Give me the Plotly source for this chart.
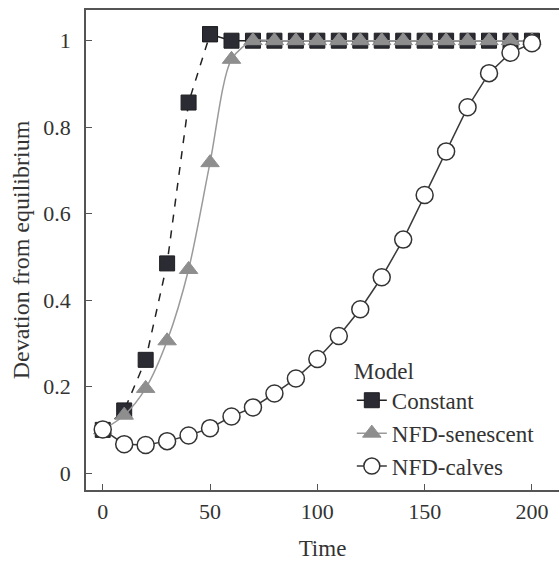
import plotly.graph_objects as go

time = [0, 10, 20, 30, 40, 50, 60, 70, 80, 90, 100, 110, 120, 130, 140, 150, 160, 170, 180, 190, 200]
constant = [0.10, 0.145, 0.262, 0.485, 0.857, 1.015, 1.0, 1.0, 1.0, 1.0, 1.0, 1.0, 1.0, 1.0, 1.0, 1.0, 1.0, 1.0, 1.0, 1.0, 1.0]
senescent = [0.10, 0.134, 0.196, 0.306, 0.471, 0.718, 0.957, 1.0, 1.0, 1.0, 1.0, 1.0, 1.0, 1.0, 1.0, 1.0, 1.0, 1.0, 1.0, 1.0, 1.0]
calves = [0.101, 0.067, 0.065, 0.074, 0.087, 0.104, 0.131, 0.152, 0.184, 0.219, 0.264, 0.317, 0.379, 0.453, 0.540, 0.643, 0.744, 0.846, 0.925, 0.972, 0.994]

x_ticks = [0, 50, 100, 150, 200]
y_ticks = [0, 0.2, 0.4, 0.6, 0.8, 1]

FONT = "Liberation Serif"
FS = 22
LFS = 23
TXT = "#333333"
AX = "#555555"

rise = [i for i, t in enumerate(time) if t <= 50]
flat = [i for i, t in enumerate(time) if t >= 50]

fig = go.Figure()

sq_marker = dict(symbol="square", size=15, color="#2b2b33", line=dict(color="#1e1e22", width=1))

fig.add_trace(go.Scatter(
    x=[time[i] for i in rise], y=[constant[i] for i in rise],
    mode="lines+markers", showlegend=False,
    line=dict(color="#222222", width=1.5, dash="8px,8px"),
    marker=sq_marker,
))
fig.add_trace(go.Scatter(
    x=[time[i] for i in flat], y=[constant[i] for i in flat],
    mode="lines+markers", name="Constant",
    line=dict(color="#222222", width=1.5),
    marker=sq_marker,
))
fig.add_trace(go.Scatter(
    x=time, y=senescent, mode="lines+markers", name="NFD-senescent",
    line=dict(color="#9a9a9a", width=1.5, shape="spline", smoothing=0.8),
    marker=dict(symbol="triangle-up", size=16, color="#8e8e8e", line=dict(color="#8e8e8e", width=1)),
))
fig.add_trace(go.Scatter(
    x=time, y=calves, mode="lines+markers", name="NFD-calves",
    line=dict(color="#3a3a3a", width=1.5),
    marker=dict(symbol="circle", size=17, color="white", line=dict(color="#333333", width=1.5)),
))

fig.update_layout(
    width=559, height=561,
    margin=dict(l=86, r=0, t=10, b=69),
    paper_bgcolor="white", plot_bgcolor="white",
    font=dict(family=FONT, size=FS, color=TXT),
    legend=dict(
        x=0.562, y=0.294, xanchor="left", yanchor="top",
        bgcolor="rgba(0,0,0,0)",
        title=dict(text="Model", font=dict(family=FONT, size=LFS, color=TXT)),
        font=dict(family=FONT, size=LFS, color=TXT),
        tracegroupgap=0,
    ),
    xaxis=dict(
        range=[-7.8, 212.6], tickvals=x_ticks, ticktext=[str(v) for v in x_ticks],
        tickfont=dict(family=FONT, size=FS, color=TXT),
        ticks="inside", ticklen=6, tickcolor=AX, tickwidth=1.2,
        ticklabelstandoff=1,
        showline=True, linecolor=AX, linewidth=1.5, mirror=True,
        showgrid=False, zeroline=False,
        title=dict(text="Time", standoff=21, font=dict(family=FONT, size=LFS, color=TXT)),
    ),
    yaxis=dict(
        range=[-0.039, 1.071], tickvals=y_ticks, ticktext=["0", "0.2", "0.4", "0.6", "0.8", "1"],
        tickfont=dict(family=FONT, size=FS, color=TXT),
        ticks="inside", ticklen=6, tickcolor=AX, tickwidth=1.2,
        ticklabelstandoff=9,
        showline=True, linecolor=AX, linewidth=1.5,
        showgrid=False, zeroline=False,
        title=dict(text="Devation from equilibrium", standoff=7, font=dict(family=FONT, size=24, color=TXT)),
    ),
)

fig.write_html("out.html")
